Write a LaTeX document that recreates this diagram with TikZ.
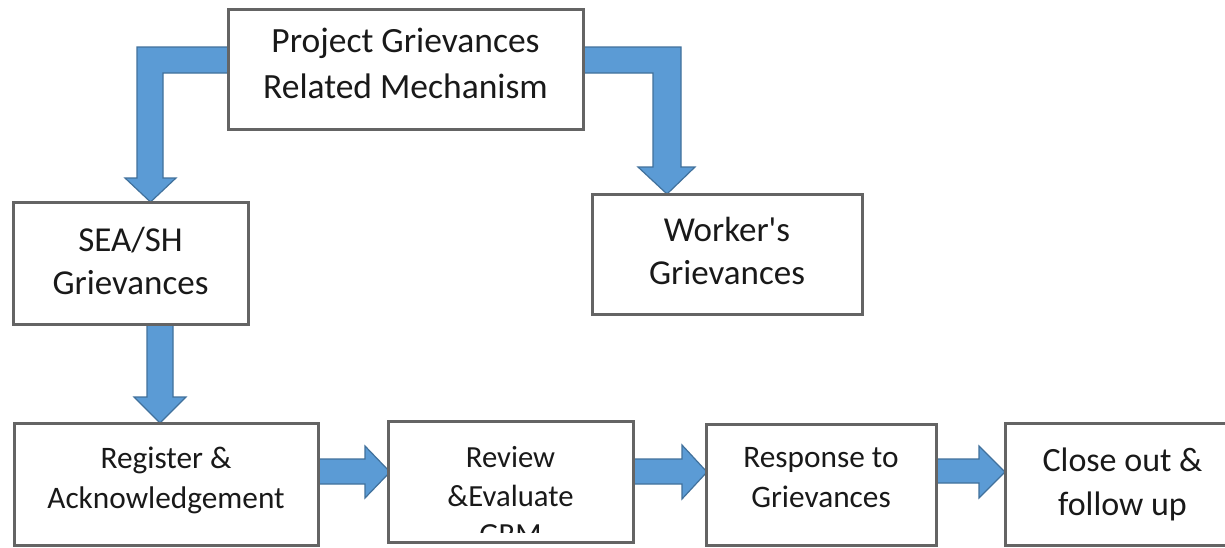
\documentclass[tikz,border=0pt]{standalone}
\usepackage{fontspec}
\setmainfont{Carlito}[Ligatures=TeXOff]
\definecolor{arrowfill}{RGB}{91,155,213}
\definecolor{arrowline}{RGB}{65,113,156}
\definecolor{boxline}{RGB}{100,100,100}
\definecolor{txt}{RGB}{25,25,25}
\tikzset{
  blockarrow/.style={fill=arrowfill, draw=arrowline, line width=1.2pt, line join=miter},
  box/.style={draw=boxline, fill=white, line width=3pt, inner sep=0pt, align=center, text=txt},
  bigtext/.style={font=\fontsize{35.5}{46}\selectfont},
  midtext/.style={font=\fontsize{35}{43}\selectfont},
  smalltext/.style={font=\fontsize{31.3}{40}\selectfont},
}
\begin{document}
\begin{tikzpicture}[x=1pt,y=-1pt]
\useasboundingbox (0,0) rectangle (1225,547);
\clip (0,0) rectangle (1225,547);
\fill[white] (0,0) rectangle (1225,547);

% block arrows (drawn under the boxes)
\draw[blockarrow] (230,47) -- (137,47) -- (137,178) -- (125,178) -- (150.5,202) -- (176,178) -- (163,178) -- (163,73) -- (230,73) -- cycle;
\draw[blockarrow] (581,47) -- (681,47) -- (681,167) -- (695,167) -- (667,194) -- (638,167) -- (653,167) -- (653,73) -- (581,73) -- cycle;
\draw[blockarrow] (147,322) -- (147,397) -- (134,397) -- (160,423) -- (186,397) -- (173,397) -- (173,322) -- cycle;
\draw[blockarrow] (316,459) -- (365,459) -- (365,446) -- (390,472) -- (365,498) -- (365,484) -- (316,484) -- cycle;
\draw[blockarrow] (631,459) -- (682,459) -- (682,445) -- (707,472) -- (682,499) -- (682,484) -- (631,484) -- cycle;
\draw[blockarrow] (934,459) -- (979,459) -- (979,446) -- (1005,472) -- (979,498) -- (979,483) -- (934,483) -- cycle;

% boxes
\node[box, bigtext, minimum width=355pt, minimum height=120pt] (top) at (405.5,69)
  {Project Grievances\\Related Mechanism\\[-35pt]\mbox{}};
\node[box, midtext, minimum width=235pt, minimum height=122pt] (sea) at (130.5,263)
  {SEA/SH\\Grievances\\[-39pt]\mbox{}};
\node[box, midtext, minimum width=270pt, minimum height=120pt] (wrk) at (727,254)
  {Worker's\\Grievances\\[-37pt]\mbox{}};
\node[box, smalltext, minimum width=304pt, minimum height=122pt] (reg) at (166,484)
  {Register \&\\Acknowledgement\\[-28pt]\mbox{}};
\node[box, minimum width=245pt, minimum height=121pt] (rev) at (510.5,481.5) {};
\node[box, smalltext, minimum width=230pt, minimum height=121pt] (res) at (821,484.5)
  {Response to\\Grievances\\[-26pt]\mbox{}};
\node[box, font=\fontsize{34}{44}\selectfont, minimum width=235pt, minimum height=122pt] (clo) at (1122.5,484)
  {Close out \&\\follow up};

% clipped text of the review box
\begin{scope}
  \clip (390,423) rectangle (631,532);
  \node[align=center, text=txt, font=\fontsize{30.7}{38.5}\selectfont] (revtext) at (510.5,496)
    {Review\\\&Evaluate\\GRM};
\end{scope}
\end{tikzpicture}
\end{document}
